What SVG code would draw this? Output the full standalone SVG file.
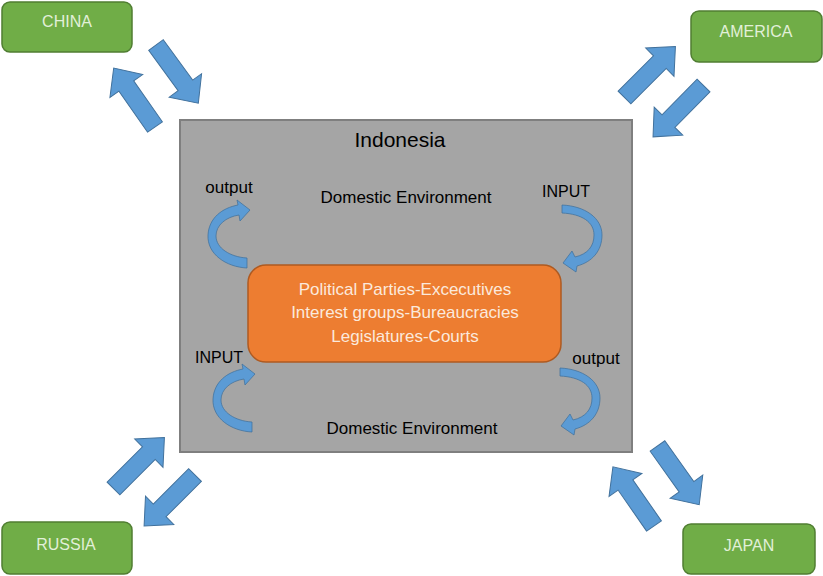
<svg xmlns="http://www.w3.org/2000/svg" xmlns:xlink="http://www.w3.org/1999/xlink" width="823" height="576" viewBox="0 0 823 576">
<style>
.country rect{fill:#70ad47;stroke:#507e32;stroke-width:1.5}
.country text{fill:#e2f0d9;font-family:"Liberation Sans",Arial,sans-serif;font-size:16px;text-anchor:middle}
.lbl{fill:#000;font-family:"Liberation Sans",Arial,sans-serif;text-anchor:middle}
.core text{fill:#fbe9dc;font-family:"Liberation Sans",Arial,sans-serif;font-size:17px;text-anchor:middle}
.arr{fill:#5b9bd5;stroke:#41719c;stroke-width:1}
.carr{fill:#5b9bd5;stroke:#41719c;stroke-width:0.75}
</style>
<defs>
<path id="blk" d="M0,-9 H50 V-20 L72,0 L50,20 V9 H0 Z"/>
<path id="cL" d="M247,268 C226,267 207,254 208,235 C209,218 222,208 238,205 L237,200 L250,210 L240,221 L239,215 C226,217 216,225 216,236 C216,248 230,257 247,258 Z"/>
<path id="cR" d="M562,205 C585,206 602,218 602,235 C602,251 592,262 577,266 L576,272 L563,263 L572,251 L575,257 C588,254 594,246 594,235 C594,222 582,214 562,213 Z"/>
</defs>
<rect width="823" height="576" fill="#fff"/>
<g id="indonesia">
<rect x="180" y="120" width="452" height="332" fill="#a5a5a5" stroke="#7f7f7f" stroke-width="2"/>
<text class="lbl" x="400" y="147" font-size="21">Indonesia</text>
<text class="lbl" x="406" y="203" font-size="17">Domestic Environment</text>
<text class="lbl" x="412" y="434" font-size="17">Domestic Environment</text>
<text class="lbl" x="229" y="193" font-size="17">output</text>
<text class="lbl" x="566" y="197" font-size="16">INPUT</text>
<text class="lbl" x="219" y="363" font-size="16">INPUT</text>
<text class="lbl" x="596" y="364" font-size="17">output</text>
</g>
<g id="core" class="core">
<rect x="248" y="265" width="313" height="97" rx="18" fill="#ed7d31" stroke="#ae5a21" stroke-width="1.5"/>
<text x="405" y="295">Political Parties-Excecutives</text>
<text x="405" y="318">Interest groups-Bureaucracies</text>
<text x="405" y="342">Legislatures-Courts</text>
</g>
<g id="china" class="country">
<rect x="2" y="2" width="130" height="50" rx="8"/>
<text x="67" y="27">CHINA</text>
</g>
<g id="america" class="country">
<rect x="691" y="11" width="131" height="51" rx="8"/>
<text x="756" y="37">AMERICA</text>
</g>
<g id="russia" class="country">
<rect x="2" y="522" width="130" height="52" rx="8"/>
<text x="66" y="550">RUSSIA</text>
</g>
<g id="japan" class="country">
<rect x="683" y="524" width="132" height="50" rx="8"/>
<text x="749" y="551">JAPAN</text>
</g>
<g id="connectors">
<use xlink:href="#blk" class="arr" transform="translate(156,45) rotate(54)"/>
<use xlink:href="#blk" class="arr" transform="translate(155,127) rotate(-125)"/>
<use xlink:href="#blk" class="arr" transform="translate(624.5,97.5) rotate(-45)"/>
<use xlink:href="#blk" class="arr" transform="translate(703.5,85.5) rotate(134.5)"/>
<use xlink:href="#blk" class="arr" transform="translate(113.5,488.5) rotate(-45)"/>
<use xlink:href="#blk" class="arr" transform="translate(195,475) rotate(135)"/>
<use xlink:href="#blk" class="arr" transform="translate(657.5,446) rotate(54.6)"/>
<use xlink:href="#blk" class="arr" transform="translate(654,526) rotate(-124.8)"/>
<use xlink:href="#cL" class="carr"/>
<use xlink:href="#cR" class="carr"/>
<use xlink:href="#cL" class="carr" transform="translate(5,164)"/>
<use xlink:href="#cR" class="carr" transform="translate(-2,163)"/>
</g>
</svg>
